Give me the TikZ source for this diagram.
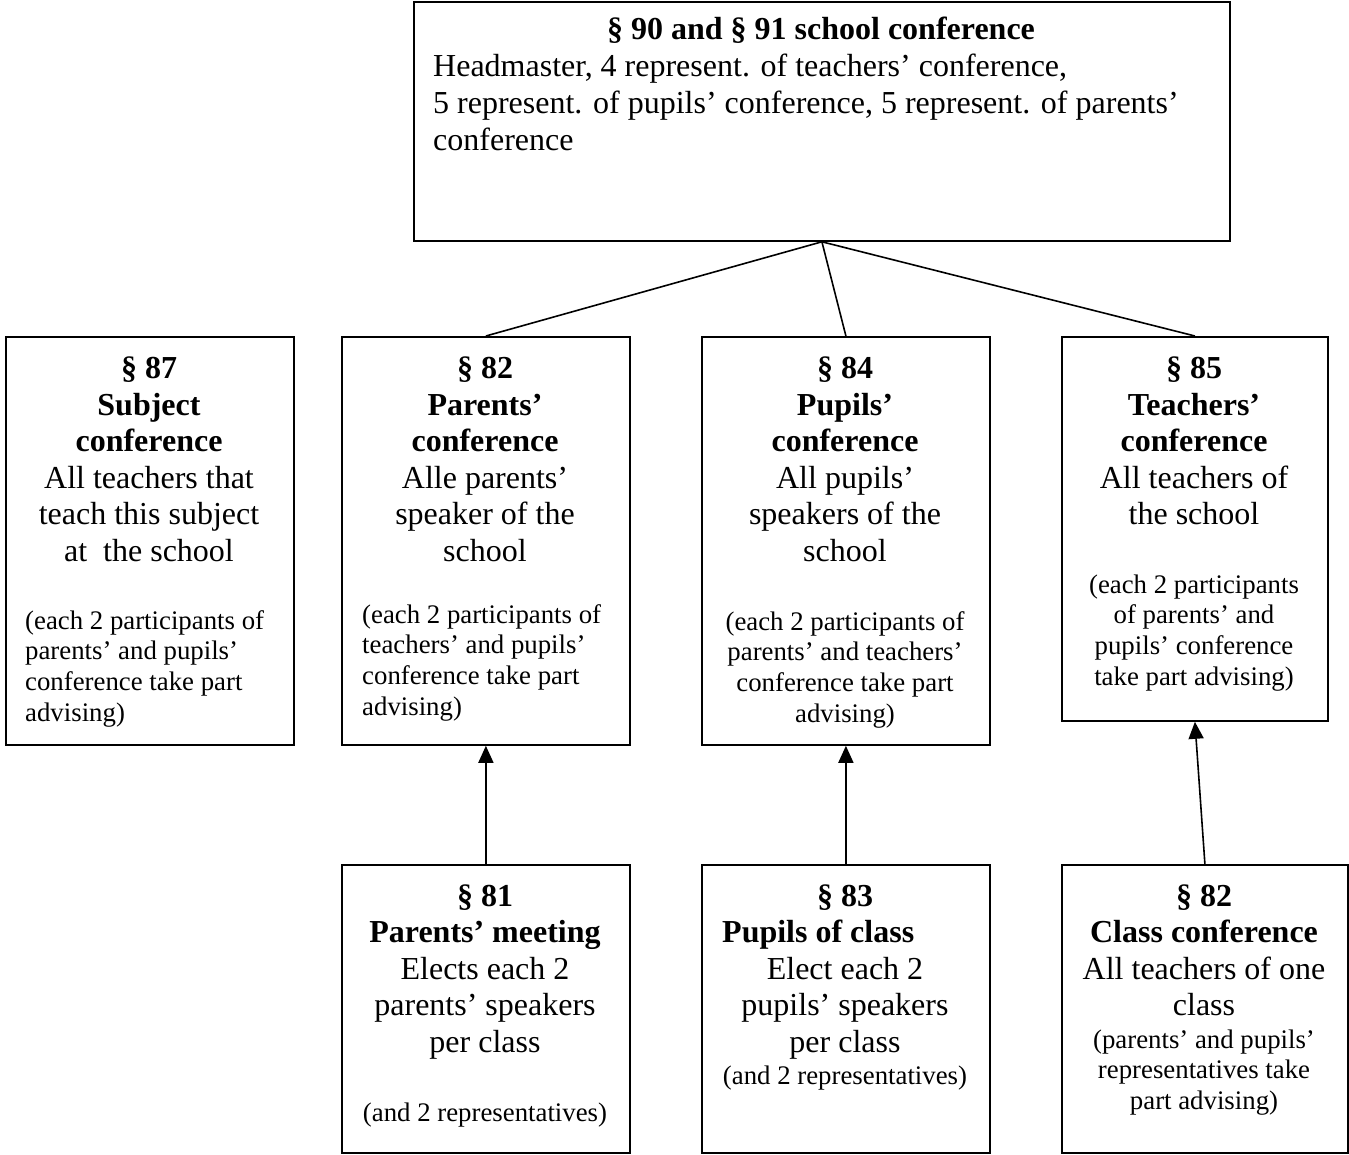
\documentclass[tikz,border=0pt]{standalone}
\usepackage{fontspec}
\setmainfont{Liberation Serif}
\usetikzlibrary{arrows.meta}
\begin{document}
\begin{tikzpicture}[x=1pt,y=-1pt,
  box/.style={draw, line width=1.8pt, anchor=north west, inner sep=0pt},
  big/.style={font=\fontsize{32}{36.6}\selectfont, inner sep=0pt, anchor=base},
  bigb/.style={font=\fontsize{32}{36.6}\selectfont\bfseries, inner sep=0pt, anchor=base},
  small/.style={font=\fontsize{26.8}{30.7}\selectfont, inner sep=0pt, anchor=base},
  conn/.style={line width=1.6pt},
  arr/.style={line width=1.6pt, -{Triangle[length=17pt,width=15pt]}}]
\useasboundingbox (0,0) rectangle (1349,1155);

% boxes
\node[box, minimum width=816pt, minimum height=239pt] (top) at (413,1) {};
\node[box, minimum width=288pt, minimum height=408pt] (b87) at (5,336) {};
\node[box, minimum width=288pt, minimum height=408pt] (b82) at (341,336) {};
\node[box, minimum width=288pt, minimum height=408pt] (b84) at (701,336) {};
\node[box, minimum width=266pt, minimum height=384pt] (b85) at (1061,336) {};
\node[box, minimum width=288pt, minimum height=288pt] (b81) at (341,864) {};
\node[box, minimum width=288pt, minimum height=288pt] (b83) at (701,864) {};
\node[box, minimum width=286pt, minimum height=288pt] (bcc) at (1061,864) {};

% connectors
\draw[conn] (top.south) -- (b82.north);
\draw[conn] (top.south) -- (b84.north);
\draw[conn] (top.south) -- (b85.north);
\draw[arr] (b81.north) -- (b82.south);
\draw[arr] (b83.north) -- (b84.south);
\draw[arr] (bcc.north) -- (b85.south);

% top box text
\node[bigb] (t0) at (821,40) {§ 90 and § 91 school conference};
\node[big, anchor=base west] (t1) at (433,77) {Headmaster, 4 represent. of teachers’ conference,};
\node[big, anchor=base west] (t2) at (433,114) {5 represent. of pupils’ conference, 5 represent. of parents’};
\node[big, anchor=base west] (t3) at (433,151) {conference};

% 87
\node[bigb] (a1) at (149,378.5) {§ 87};
\node[bigb] (a2) at (149,415) {Subject};
\node[bigb] (a3) at (149,451.5) {conference};
\node[big] (a4) at (149,488) {All teachers that};
\node[big] (a5) at (149,524.5) {teach this subject};
\node[big] (a6) at (149,561) {at\ \ the school};
\node[small, anchor=base west] (a7) at (25,629) {(each 2 participants of};
\node[small, anchor=base west] (a8) at (25,659.7) {parents’ and pupils’};
\node[small, anchor=base west] (a9) at (25,690.4) {conference take part};
\node[small, anchor=base west] (a10) at (25,721) {advising)};

% 82
\node[bigb] (c1) at (485,378.5) {§ 82};
\node[bigb] (c2) at (485,415) {Parents’};
\node[bigb] (c3) at (485,451.5) {conference};
\node[big] (c4) at (485,488) {Alle parents’};
\node[big] (c5) at (485,524.5) {speaker of the};
\node[big] (c6) at (485,561) {school};
\node[small, anchor=base west] (c7) at (362,623) {(each 2 participants of};
\node[small, anchor=base west] (c8) at (362,653.7) {teachers’ and pupils’};
\node[small, anchor=base west] (c9) at (362,684.4) {conference take part};
\node[small, anchor=base west] (c10) at (362,715) {advising)};

% 84
\node[bigb] (d1) at (845,378.5) {§ 84};
\node[bigb] (d2) at (845,415) {Pupils’};
\node[bigb] (d3) at (845,451.5) {conference};
\node[big] (d4) at (845,488) {All pupils’};
\node[big] (d5) at (845,524.5) {speakers of the};
\node[big] (d6) at (845,561) {school};
\node[small] (d7) at (845,630) {(each 2 participants of};
\node[small] (d8) at (845,660.7) {parents’ and teachers’};
\node[small] (d9) at (845,691.4) {conference take part};
\node[small] (d10) at (845,722) {advising)};

% 85
\node[bigb] (e1) at (1194,378.5) {§ 85};
\node[bigb] (e2) at (1194,415) {Teachers’};
\node[bigb] (e3) at (1194,451.5) {conference};
\node[big] (e4) at (1194,488) {All teachers of};
\node[big] (e5) at (1194,524.5) {the school};
\node[small] (e7) at (1194,593) {(each 2 participants};
\node[small] (e8) at (1194,623.7) {of parents’ and};
\node[small] (e9) at (1194,654.4) {pupils’ conference};
\node[small] (e10) at (1194,685) {take part advising)};

% 81
\node[bigb] (f1) at (485,906) {§ 81};
\node[bigb] (f2) at (485,942.5) {Parents’ meeting};
\node[big] (f3) at (485,979) {Elects each 2};
\node[big] (f4) at (485,1015.5) {parents’ speakers};
\node[big] (f5) at (485,1052) {per class};
\node[small] (f6) at (485,1121) {(and 2 representatives)};

% 83
\node[bigb] (g1) at (845,906) {§ 83};
\node[bigb, anchor=base west] (g2) at (722,942.5) {Pupils of class};
\node[big] (g3) at (845,979) {Elect each 2};
\node[big] (g4) at (845,1015.5) {pupils’ speakers};
\node[big] (g5) at (845,1052) {per class};
\node[small] (g6) at (845,1084) {(and 2 representatives)};

% class conference
\node[bigb] (h1) at (1204,906) {§ 82};
\node[bigb] (h2) at (1204,942.5) {Class conference};
\node[big] (h3) at (1204,979) {All teachers of one};
\node[big] (h4) at (1204,1015.5) {class};
\node[small] (h5) at (1204,1048) {(parents’ and pupils’};
\node[small] (h6) at (1204,1078.7) {representatives take};
\node[small] (h7) at (1204,1109.4) {part advising)};
\end{tikzpicture}
\end{document}
